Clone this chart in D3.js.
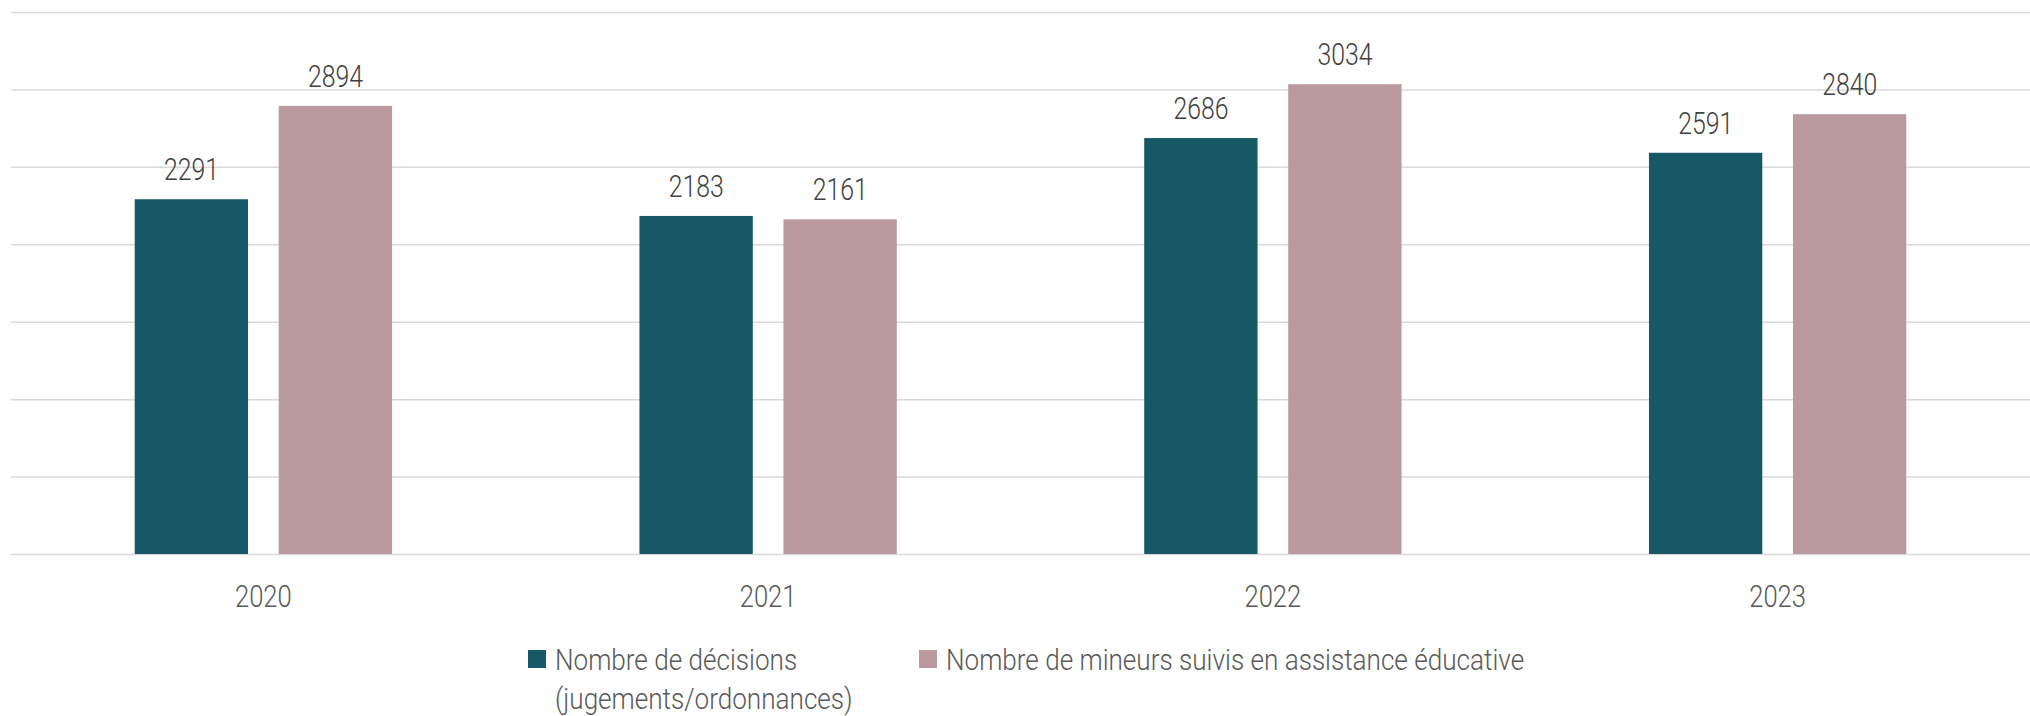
<!DOCTYPE html>
<html>
<head>
<meta charset="utf-8">
<script src="https://cdn.jsdelivr.net/npm/d3@7"></script>
<style>
  html, body { margin: 0; padding: 0; background: #ffffff; }
  svg { display: block; }
  text { font-family: Roboto, "Liberation Sans", sans-serif; }
</style>
</head>
<body>
<svg id="chart" width="2030" height="716"></svg>
<script>
const years = ["2020", "2021", "2022", "2023"];
const seriesNames = [
  "Nombre de décisions (jugements/ordonnances)",
  "Nombre de mineurs suivis en assistance éducative"
];
const decisions = [2291, 2183, 2686, 2591];
const mineurs = [2894, 2161, 3034, 2840];
const yTicks = [0, 500, 1000, 1500, 2000, 2500, 3000, 3500];
const legendLines = [
  ["Nombre de décisions", "(jugements/ordonnances)"],
  ["Nombre de mineurs suivis en assistance éducative"]
];
const colors = ["#175867", "#BA9A9F"];

const svg = d3.select("#chart");
const plotLeft = 11, plotRight = 2030, plotTop = 12, plotBottom = 554;

const x0 = d3.scaleBand().domain(years).range([plotLeft, plotRight]).paddingInner(0).paddingOuter(0);
const x1 = d3.scaleBand().domain(seriesNames).range([-144, 144]).paddingInner(0.213).paddingOuter(0.1065);
const y = d3.scaleLinear().domain([0, 3500]).range([plotBottom, plotTop]);
const color = d3.scaleOrdinal().domain(seriesNames).range(colors);

// gridlines
const yAxis = d3.axisLeft(y).tickValues(yTicks).tickSize(-(plotRight - plotLeft)).tickFormat("");
const gy = svg.append("g").attr("transform", `translate(${plotLeft},0)`).call(yAxis);
gy.select(".domain").remove();
gy.selectAll(".tick line").attr("stroke", "#d9d9d9").attr("stroke-width", 1.5);

const data = years.map((yr, i) => ({ year: yr, values: [
  { key: seriesNames[0], value: decisions[i] },
  { key: seriesNames[1], value: mineurs[i] }
]}));

const groups = svg.append("g").selectAll("g.grp").data(data).join("g")
  .attr("class", "grp")
  .attr("transform", d => `translate(${x0(d.year) + x0.bandwidth() / 2},0)`);

groups.selectAll("rect").data(d => d.values).join("rect")
  .attr("x", d => x1(d.key))
  .attr("width", x1.bandwidth())
  .attr("y", d => y(d.value))
  .attr("height", d => y(0) - y(d.value))
  .attr("fill", d => color(d.key));

// value labels
groups.selectAll("g.lbl").data(d => d.values).join("g")
  .attr("class", "lbl")
  .attr("transform", d => `translate(${x1(d.key) + x1.bandwidth() / 2},${y(d.value) - 19})`)
  .append("text")
  .attr("text-anchor", "middle")
  .attr("transform", "scale(0.8,1)")
  .attr("font-size", 31)
  .attr("font-weight", 300)
  .attr("fill", "#404040")
  .text(d => d.value);

// x axis labels
const xAxis = d3.axisBottom(x0).tickSize(0).tickPadding(0);
const gx = svg.append("g").attr("transform", `translate(0,${plotBottom})`).call(xAxis);
gx.select(".domain").remove();
gx.selectAll(".tick text")
  .attr("y", 0)
  .attr("dy", 0)
  .attr("transform", "translate(0,53) scale(0.8,1)")
  .attr("font-size", 32)
  .attr("font-weight", 300)
  .attr("fill", "#595959")
  .attr("font-family", "Roboto, sans-serif");

// legend
const legendX = [528, 919];
const leg = svg.append("g").selectAll("g").data(seriesNames).join("g")
  .attr("transform", (d, i) => `translate(${legendX[i]},650)`);
leg.append("rect").attr("width", 18).attr("height", 18).attr("fill", d => color(d));
const lt = leg.append("text")
  .attr("transform", "translate(27,19.5) scale(0.87,1)")
  .attr("font-size", 30)
  .attr("font-weight", 300)
  .attr("fill", "#595959");
lt.selectAll("tspan").data((d, i) => legendLines[i]).join("tspan")
  .attr("x", 0)
  .attr("dy", (d, j) => j === 0 ? 0 : 40)
  .text(d => d);
</script>
</body>
</html>
